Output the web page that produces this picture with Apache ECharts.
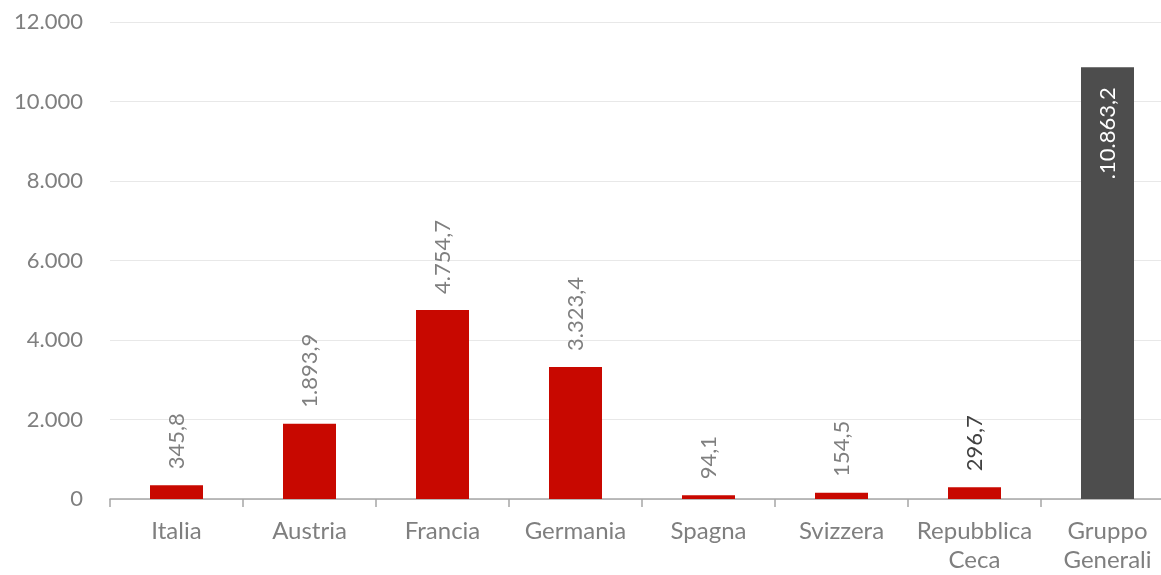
<!DOCTYPE html>
<html>
<head>
    <meta charset="utf-8">
    <title>Gruppo Generali per paese</title>
    <script src="https://cdn.jsdelivr.net/npm/echarts@6/dist/echarts.min.js"></script>
</head>
<style>
    body { margin: 0; background: #fff; overflow: hidden; }
    /* l'ultima categoria esce un poco dal bordo destro, come nell'originale */
    #main { width: 1174px; height: 575px; }
</style>
<body>
<div id="main"></div>
<script type="text/javascript">
    var paesi = ['Italia', 'Austria', 'Francia', 'Germania', 'Spagna', 'Svizzera', 'Repubblica\nCeca', 'Gruppo\nGenerali'];
    var valori = [345.8, 1893.9, 4754.7, 3323.4, 94.1, 154.5, 296.7, 10863.2];
    var tickY = [0, 2000, 4000, 6000, 8000, 10000, 12000];

    // formato italiano: 1.234,5
    function migliaia(n) {
        return String(n).replace(/\B(?=(\d{3})+(?!\d))/g, '.');
    }
    function fmt(v, dec) {
        var s = v.toFixed(dec);
        var p = s.split('.');
        return migliaia(p[0]) + (p[1] ? ',' + p[1] : '');
    }

    var font = 'Lato, "Open Sans", sans-serif';
    var rosso = '#c80800';
    var grigio = '#4d4d4d';

    var dati = valori.map(function (v, i) {
        var ultimo = i === valori.length - 1;
        var item = {
            value: v,
            itemStyle: { color: ultimo ? grigio : rosso }
        };
        if (ultimo) {
            item.label = {
                position: 'insideTop',
                distance: 20,
                align: 'right',
                color: '#ffffff',
                formatter: function (p) { return '.' + fmt(p.value, 1); }
            };
        } else if (i === 6) {
            item.label = { color: '#404040' };
        }
        return item;
    });

    var myChart = echarts.init(document.getElementById('main'));
    var option = {
        animation: false,
        grid: { left: 110, top: 22, bottom: 76, right: 0, containLabel: false },
        xAxis: {
            type: 'category',
            data: paesi,
            axisLine: { lineStyle: { color: '#a6a6a6', width: 1.5 } },
            axisTick: { show: true, length: 8, lineStyle: { color: '#a6a6a6', width: 1.5 } },
            axisLabel: {
                color: '#7f7f7f',
                fontFamily: font,
                fontSize: 24,
                lineHeight: 29,
                margin: 18,
                interval: 0
            }
        },
        yAxis: {
            type: 'value',
            min: tickY[0],
            max: tickY[tickY.length - 1],
            interval: 2000,
            axisLine: { show: false },
            axisTick: { show: false },
            splitLine: { lineStyle: { color: '#e8e8e8', width: 1 } },
            axisLabel: {
                color: '#7f7f7f',
                fontFamily: font,
                fontSize: 22,
                margin: 27,
                formatter: function (v) { return migliaia(v); }
            }
        },
        series: [{
            type: 'bar',
            barWidth: 53,
            data: dati,
            label: {
                show: true,
                position: 'top',
                rotate: 90,
                align: 'left',
                verticalAlign: 'middle',
                distance: 16,
                color: '#7f7f7f',
                fontFamily: font,
                fontSize: 22,
                formatter: function (p) { return fmt(p.value, 1); }
            }
        }]
    };
    myChart.setOption(option);
</script>
</body>
</html>
